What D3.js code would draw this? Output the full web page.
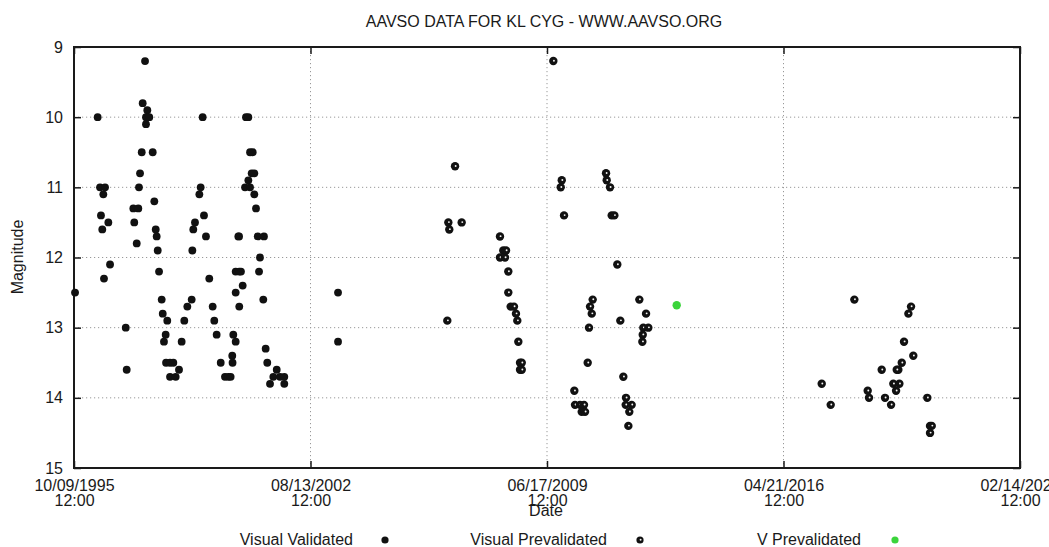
<!DOCTYPE html>
<html>

<head>
    <meta charset="utf-8" />
    <script src="https://d3js.org/d3.v7.min.js"></script>
    <style>
        body {
            margin: 0;
            overflow: hidden;
            background: #fff;
        }

        text {
            font-family: "Liberation Sans", Arial, sans-serif;
            font-size: 16px;
            fill: #1a1a1a;
        }

        .grid line {
            stroke: #999;
            stroke-width: 1;
            stroke-dasharray: 1.2, 2.8;
        }

        .frame {
            fill: none;
            stroke: #1a1a1a;
            stroke-width: 2px;
        }

        .axis path {
            display: none;
        }

        .axis line {
            stroke: #1a1a1a;
            stroke-width: 1.5px;
        }
    </style>
</head>

<body>
    <svg id="chart" width="1049" height="547"></svg>

    <script>
        // days after JD 2450000 (10/09/1995 12:00) and magnitudes
        const validatedDays = [11, 250, 275, 328, 310, 285, 363, 299, 381, 317, 547, 557,
            751, 726, 775, 761, 796, 761, 716, 832, 698, 687, 627, 680, 849, 637, 663, 864,
            874, 885, 899, 927, 938, 986, 969, 951, 973, 1015, 1050, 1015, 1075, 1110, 1138,
            1166, 1198, 1244, 1251, 1261, 1279, 1325, 1339, 1374, 1395, 1360, 1430, 1466,
            1483, 1508, 1551, 1596, 1631, 1656, 1673, 1676, 1684, 1709, 1709, 1747, 1783,
            1709, 1747, 1765, 1737, 1745, 1818, 1843, 1861, 1889, 1878, 1906, 1843, 1808,
            1861, 1906, 1924, 1942, 2008, 1966, 1956, 2001, 2026, 2043, 2143, 2107, 2178,
            2223, 2072, 2223, 2791, 2791];
        const validatedMag = [12.5, 10.0, 11.0, 11.0, 11.1, 11.4, 11.5, 11.6, 12.1, 12.3, 13.0, 13.6,
            9.2, 9.8, 9.9, 10.0, 10.0, 10.1, 10.5, 10.5, 10.8, 11.0, 11.3, 11.3, 11.2, 11.5, 11.8, 11.6,
            11.7, 11.9, 12.2, 12.6, 12.8, 12.9, 13.1, 13.2, 13.5, 13.5, 13.5, 13.7, 13.7, 13.6, 13.2,
            12.9, 12.7, 12.6, 11.9, 11.6, 11.5, 11.1, 11.0, 11.4, 11.7, 10.0, 12.3, 12.7,
            12.9, 13.1, 13.5, 13.7, 13.7, 13.7, 13.4, 13.5, 13.1, 13.2, 12.5, 12.7, 12.4,
            12.2, 12.2, 12.2, 11.7, 11.7, 10.0, 10.0, 10.5, 10.5, 10.8, 10.8, 10.9, 11.0,
            11.0, 11.1, 11.3, 11.7, 11.7, 12.0, 12.2, 12.6, 13.3, 13.5, 13.6, 13.7, 13.7,
            13.7, 13.8, 13.8, 12.5, 13.2];

        const prevalidatedDays = [4028, 3957, 3967, 4098, 3946, 4503, 4538, 4567, 4503, 4556,
            4591, 4591, 4616, 4651, 4672, 4686, 4697, 4715, 4733, 4715, 4733,
            5067, 5156, 5145, 5180, 5624, 5631, 5666, 5684, 5712, 5743, 5483, 5455, 5473,
            5444, 5430, 5289, 5296, 5349, 5391, 5367, 5402, 5775, 5807, 5835, 5832, 5895,
            5870, 5860, 5976, 6047, 6018, 6071, 6012, 6008,
            8249, 8848, 8820, 8774, 8872, 8750, 8714, 8697, 8538, 8661, 8725, 8690, 7904,
            7999, 8390, 8404, 8573, 8637, 9020, 9049, 9067, 9049];
        const prevalidatedMag = [10.7, 11.5, 11.6, 11.5, 12.9, 11.7, 11.9, 11.9, 12.0, 12.0,
            12.2, 12.5, 12.7, 12.7, 12.8, 12.9, 13.2, 13.5, 13.5, 13.6, 13.6,
            9.2, 10.9, 11.0, 11.4, 10.8, 10.9, 11.0, 11.4, 11.4, 12.1, 12.6, 12.7, 12.8,
            13.0, 13.5, 13.9, 14.1, 14.1, 14.1, 14.2, 14.2, 12.9, 13.7, 14.0, 14.1, 14.1,
            14.2, 14.4, 12.6, 12.8, 13.0, 13.0, 13.1, 13.2,
            12.6, 12.7, 12.8, 13.2, 13.4, 13.5, 13.6, 13.6, 13.6, 13.8, 13.8, 13.9, 13.8,
            14.1, 13.9, 14.0, 14.0, 14.1, 14.0, 14.4, 14.4, 14.5];

        const vPrevalidatedDays = [6371];
        const vPrevalidatedMag = [12.68];

        // x ticks every 2500 days, labels as printed on the chart
        const xTicks = [0, 2500, 5000, 7500, 10000];
        const xTickDates = ["10/09/1995", "08/13/2002", "06/17/2009", "04/21/2016", "02/14/2023"];
        const xTickTimes = ["12:00", "12:00", "12:00", "12:00", "12:00"];
        const yTicks = [9, 10, 11, 12, 13, 14, 15];

        const series = [
            { name: "Visual Validated", days: validatedDays, mag: validatedMag, style: "filled" },
            { name: "Visual Prevalidated", days: prevalidatedDays, mag: prevalidatedMag, style: "dotted" },
            { name: "V Prevalidated", days: vPrevalidatedDays, mag: vPrevalidatedMag, style: "green" }
        ];

        const plotLeft = 74, plotRight = 1020, plotTop = 47, plotBottom = 468;
        const svg = d3.select("#chart");

        const x = d3.scaleLinear().domain([0, 10000]).range([plotLeft, plotRight]);
        const y = d3.scaleLinear().domain([9, 15]).range([plotTop, plotBottom]);

        // grid
        const grid = svg.append("g").attr("class", "grid");
        grid.selectAll(".gy")
            .data(yTicks.slice(1, -1))
            .enter().append("line")
            .attr("x1", plotLeft).attr("x2", plotRight)
            .attr("y1", d => y(d)).attr("y2", d => y(d));
        grid.selectAll(".gx")
            .data(xTicks.slice(1, -1))
            .enter().append("line")
            .attr("x1", d => x(d)).attr("x2", d => x(d))
            .attr("y1", plotTop).attr("y2", plotBottom);

        // axes (ticks point inward, mirrored)
        svg.append("g").attr("class", "axis")
            .attr("transform", `translate(${plotLeft},0)`)
            .call(d3.axisLeft(y).tickValues(yTicks).tickSize(-7).tickPadding(11).tickFormat(d3.format("d")));
        svg.append("g").attr("class", "axis")
            .attr("transform", `translate(${plotRight},0)`)
            .call(d3.axisRight(y).tickValues(yTicks).tickSize(-7).tickFormat(""));
        svg.append("g").attr("class", "axis")
            .attr("transform", `translate(0,${plotTop})`)
            .call(d3.axisTop(x).tickValues(xTicks).tickSize(-7).tickFormat(""));
        const xAxis = svg.append("g").attr("class", "axis")
            .attr("transform", `translate(0,${plotBottom})`)
            .call(d3.axisBottom(x).tickValues(xTicks).tickSize(-7).tickFormat(""));

        xAxis.selectAll(".tick text").remove();
        xAxis.selectAll(".tick").append("text")
            .attr("text-anchor", "middle")
            .each(function (d, i) {
                const t = d3.select(this);
                t.append("tspan").attr("x", 0).attr("y", 23).text(xTickDates[i]);
                t.append("tspan").attr("x", 0).attr("y", 38).text(xTickTimes[i]);
            });

        svg.selectAll(".axis text")
            .attr("font-family", null).attr("font-size", null).attr("fill", null);

        svg.append("rect").attr("class", "frame")
            .attr("x", plotLeft).attr("y", plotTop)
            .attr("width", plotRight - plotLeft).attr("height", plotBottom - plotTop);

        // markers
        function drawMarker(g, style, r) {
            if (style === "green") {
                g.append("circle").attr("r", r).attr("fill", "#3bd43b");
            } else {
                g.append("circle").attr("r", r).attr("fill", "#111");
                if (style === "dotted") {
                    g.append("circle").attr("r", 0.95).attr("cx", 0.6).attr("cy", -0.3).attr("fill", "#f4f4f4");
                }
            }
        }

        series.forEach(s => {
            const pts = s.days.map((d, i) => [d, s.mag[i]]);
            svg.append("g")
                .selectAll("g")
                .data(pts)
                .enter().append("g")
                .attr("transform", d => `translate(${x(d[0])},${y(d[1])})`)
                .each(function () { drawMarker(d3.select(this), s.style, s.style === "filled" ? 3.9 : 4.2); });
        });

        // titles
        svg.append("text")
            .attr("x", 544).attr("y", 27)
            .attr("text-anchor", "middle")
            .text("AAVSO DATA FOR KL CYG - WWW.AAVSO.ORG");
        svg.append("text")
            .attr("transform", "translate(23,257) rotate(-90)")
            .attr("text-anchor", "middle")
            .text("Magnitude");
        svg.append("text")
            .attr("x", 546).attr("y", 516)
            .attr("text-anchor", "middle")
            .text("Date");

        // legend
        const legend = [
            { textEnd: 353, mark: 385 },
            { textEnd: 607, mark: 640 },
            { textEnd: 861, mark: 895 }
        ];
        series.forEach((s, i) => {
            svg.append("text")
                .attr("x", legend[i].textEnd).attr("y", 545)
                .attr("text-anchor", "end")
                .text(s.name);
            const g = svg.append("g").attr("transform", `translate(${legend[i].mark},540)`);
            drawMarker(g, s.style, 3.6);
        });
    </script>
</body>

</html>
